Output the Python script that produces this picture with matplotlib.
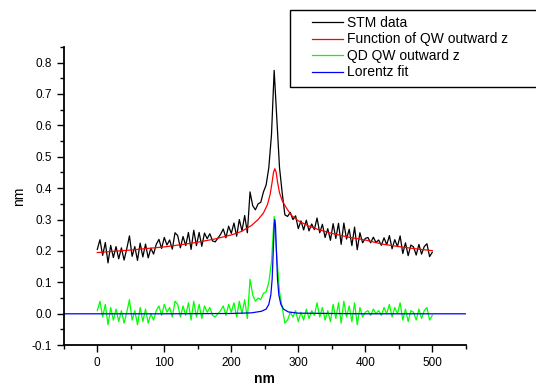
import matplotlib
matplotlib.use("Agg")
import matplotlib.pyplot as plt
from matplotlib.patches import Rectangle
from matplotlib.ticker import MultipleLocator

plt.rcParams['font.family'] = ['Liberation Sans', 'DejaVu Sans']
plt.rcParams['axes.unicode_minus'] = False

# STM data and residual (QD QW outward z), sampled every 4 nm
x_data = list(range(0, 501, 4))
stm = [0.205, 0.236, 0.186, 0.227, 0.162, 0.218, 0.179, 0.214, 0.175, 0.210,
       0.171, 0.207, 0.248, 0.183, 0.214, 0.170, 0.225, 0.181, 0.222, 0.178,
       0.209, 0.190, 0.221, 0.237, 0.208, 0.243, 0.219, 0.235, 0.206, 0.258,
       0.249, 0.210, 0.246, 0.217, 0.259, 0.205, 0.266, 0.217, 0.259, 0.215,
       0.257, 0.239, 0.255, 0.232, 0.229, 0.241, 0.253, 0.270, 0.242, 0.279,
       0.256, 0.289, 0.247, 0.300, 0.264, 0.313, 0.258, 0.388, 0.344, 0.331,
       0.350, 0.355, 0.388, 0.410, 0.465, 0.570, 0.775, 0.620, 0.465, 0.385,
       0.315, 0.310, 0.323, 0.300, 0.312, 0.271, 0.296, 0.267, 0.298, 0.264,
       0.286, 0.268, 0.305, 0.258, 0.285, 0.243, 0.271, 0.234, 0.287, 0.240,
       0.288, 0.221, 0.289, 0.238, 0.269, 0.217, 0.276, 0.204, 0.258, 0.226,
       0.240, 0.243, 0.226, 0.244, 0.227, 0.235, 0.218, 0.242, 0.220, 0.249,
       0.207, 0.236, 0.214, 0.248, 0.192, 0.226, 0.185, 0.219, 0.213, 0.187,
       0.221, 0.190, 0.214, 0.223, 0.182, 0.196]
qd = [0.01, 0.04, -0.01, 0.03, -0.035, 0.02, -0.02, 0.015, -0.025, 0.01,
      -0.03, 0.005, 0.045, -0.02, 0.01, -0.035, 0.02, -0.025, 0.015, -0.03,
      0.0, -0.02, 0.01, 0.025, -0.005, 0.03, 0.005, 0.02, -0.01, 0.04,
      0.03, -0.01, 0.025, -0.005, 0.035, -0.02, 0.04, -0.01, 0.03, -0.015,
      0.025, 0.005, 0.02, -0.005, -0.01, 0.0, 0.01, 0.025, -0.005, 0.03,
      0.005, 0.035, -0.01, 0.04, 0.0, 0.045, -0.015, 0.11, 0.06, 0.04,
      0.05, 0.045, 0.065, 0.07, 0.1, 0.165, 0.31, 0.18, 0.07, 0.02,
      -0.03, -0.02, 0.005, -0.01, 0.01, -0.025, 0.005, -0.02, 0.015, -0.015,
      0.01, -0.005, 0.035, -0.01, 0.02, -0.02, 0.01, -0.025, 0.03, -0.015,
      0.035, -0.03, 0.04, -0.01, 0.025, -0.025, 0.035, -0.035, 0.02, -0.01,
      0.005, 0.01, -0.005, 0.015, 0.0, 0.01, -0.005, 0.02, 0.0, 0.03,
      -0.01, 0.02, 0.0, 0.035, -0.02, 0.015, -0.025, 0.01, 0.005, -0.02,
      0.015, -0.015, 0.01, 0.02, -0.02, -0.005]

# Function of QW outward z
x_fun = [0, 25, 50, 75, 100, 125, 150, 175, 200, 215, 230, 240, 248, 254, 258,
         261, 263, 265, 267, 269, 272, 276, 280, 285, 290, 300, 315, 330, 350,
         375, 400, 425, 450, 475, 500]
fun = [0.195, 0.199, 0.203, 0.208, 0.213, 0.220, 0.228, 0.238, 0.251, 0.262,
       0.281, 0.300, 0.321, 0.348, 0.380, 0.420, 0.450, 0.462, 0.450, 0.420,
       0.385, 0.360, 0.345, 0.328, 0.313, 0.296, 0.280, 0.268, 0.256, 0.244,
       0.235, 0.222, 0.214, 0.207, 0.201]

# Lorentz fit
x_lor = [-50, 0, 100, 200, 230, 245, 252, 256, 259, 261, 263, 264, 265, 266,
         267, 269, 271, 274, 278, 285, 300, 400, 550]
lor = [0, 0, 0, 0.001, 0.003, 0.008, 0.015, 0.03, 0.06, 0.11, 0.22, 0.28,
       0.30, 0.28, 0.22, 0.11, 0.06, 0.03, 0.015, 0.006, 0.002, 0, 0]

W, H = 536, 387
fig = plt.figure(figsize=(W / 100, H / 100), dpi=100)
ax = fig.add_axes([0.119, 0.108, 0.750, 0.771])

ax.plot(x_data, stm, color='black', lw=0.9, label='STM data')
ax.plot(x_fun, fun, color='red', lw=0.9, label='Function of QW outward z')
ax.plot(x_data, qd, color='#00ff00', lw=0.9, label='QD QW outward z')
ax.plot(x_lor, lor, color='blue', lw=0.9, label='Lorentz fit')

ax.set_xlim(-50, 550)
ax.set_ylim(-0.1, 0.85)
ax.set_xticks([0, 100, 200, 300, 400, 500])
ax.set_yticks([-0.1, 0.0, 0.1, 0.2, 0.3, 0.4, 0.5, 0.6, 0.7, 0.8])
ax.xaxis.set_minor_locator(MultipleLocator(50))
ax.yaxis.set_minor_locator(MultipleLocator(0.05))
ax.tick_params(which='major', length=5, width=1, labelsize=8.5)
ax.tick_params(which='minor', length=3, width=1)
for s in ['top', 'right']:
    ax.spines[s].set_visible(False)
for s in ['left', 'bottom']:
    ax.spines[s].set_linewidth(1.3)

ax.set_xlabel('nm', fontsize=10, fontweight='bold', labelpad=2)
ax.set_ylabel('nm', fontsize=10, labelpad=4)

# legend box, running off the right edge like the original
fig.patches.append(Rectangle((290 / W, 1 - 87 / H), 260 / W, 77 / H,
                             transform=fig.transFigure, fill=True,
                             facecolor='white', edgecolor='black', lw=1.0,
                             zorder=2))
fig.legend(loc='upper left', bbox_to_anchor=(312 / W, 1 - 16 / H),
           fontsize=10, frameon=False, borderpad=0, borderaxespad=0,
           handlelength=2.2, handletextpad=0.35, labelspacing=0.18)

fig.savefig('out.png', dpi=100)
